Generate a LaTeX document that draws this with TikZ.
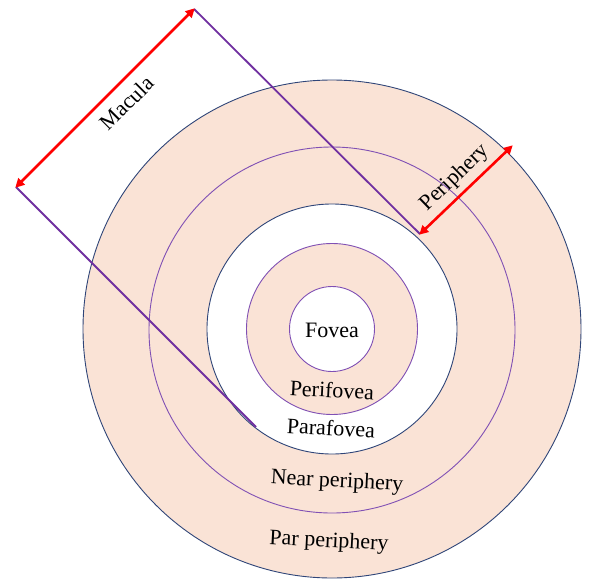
\documentclass[tikz,border=0pt]{standalone}
\usepackage{fontspec}
\setmainfont{Liberation Serif}
\usetikzlibrary{arrows.meta}
\definecolor{peach}{RGB}{250,227,214}
\definecolor{navy}{RGB}{47,69,120}
\definecolor{ringpurple}{RGB}{128,80,180}
\definecolor{linepurple}{RGB}{112,48,160}
\tikzset{
  ring/.style={circle, draw, line width=0.9pt, inner sep=0pt},
  lbl/.style={font=\fontsize{22}{26}\selectfont, inner sep=0pt, rotate=-3},
  guide/.style={draw=linepurple, line width=1.8pt},
  dimarrow/.style={draw=red, line width=2.6pt, {Triangle[length=9pt,width=9pt]}-{Triangle[length=9pt,width=9pt]}, shorten <=-1pt, shorten >=-1pt}
}
\begin{document}
\begin{tikzpicture}[x=1pt,y=-1pt]
\useasboundingbox (0,0) rectangle (589,581);
\node[ring, draw=navy, fill=peach, minimum size=498pt] (outer) at (332,329) {};
\node[ring, draw=ringpurple, minimum size=366pt] (near) at (332,330) {};
\node[ring, draw=navy, fill=white, minimum size=250pt] (para) at (332,329) {};
\node[ring, draw=ringpurple, fill=peach, minimum size=171pt] (peri) at (332,329) {};
\node[ring, draw=ringpurple, fill=white, minimum size=85pt] (fov) at (332,329) {};
\coordinate (ctop) at (194,9);
\coordinate (cleft) at (16,187);
\coordinate (e1) at (420,234);
\coordinate (e2) at (256,427);
\coordinate (po) at (512,146);
\draw[guide] (ctop) -- (e1);
\draw[guide] (cleft) -- (e2);
\draw[dimarrow] (cleft) -- (ctop);
\draw[dimarrow] (e1) -- (po);
\node[lbl, rotate=48] (mac) at (127,103) {Macula};
\node[lbl, rotate=47] (per) at (455,178) {Periphery};
\node[lbl, rotate=3] (tf) at (332,330) {Fovea};
\node[lbl] (tpf) at (332,390) {Perifovea};
\node[lbl] (tpa) at (331,428) {Parafovea};
\node[lbl] (tnp) at (337,482) {Near periphery};
\node[lbl] (tpp) at (329,542) {Par periphery};
\end{tikzpicture}
\end{document}
